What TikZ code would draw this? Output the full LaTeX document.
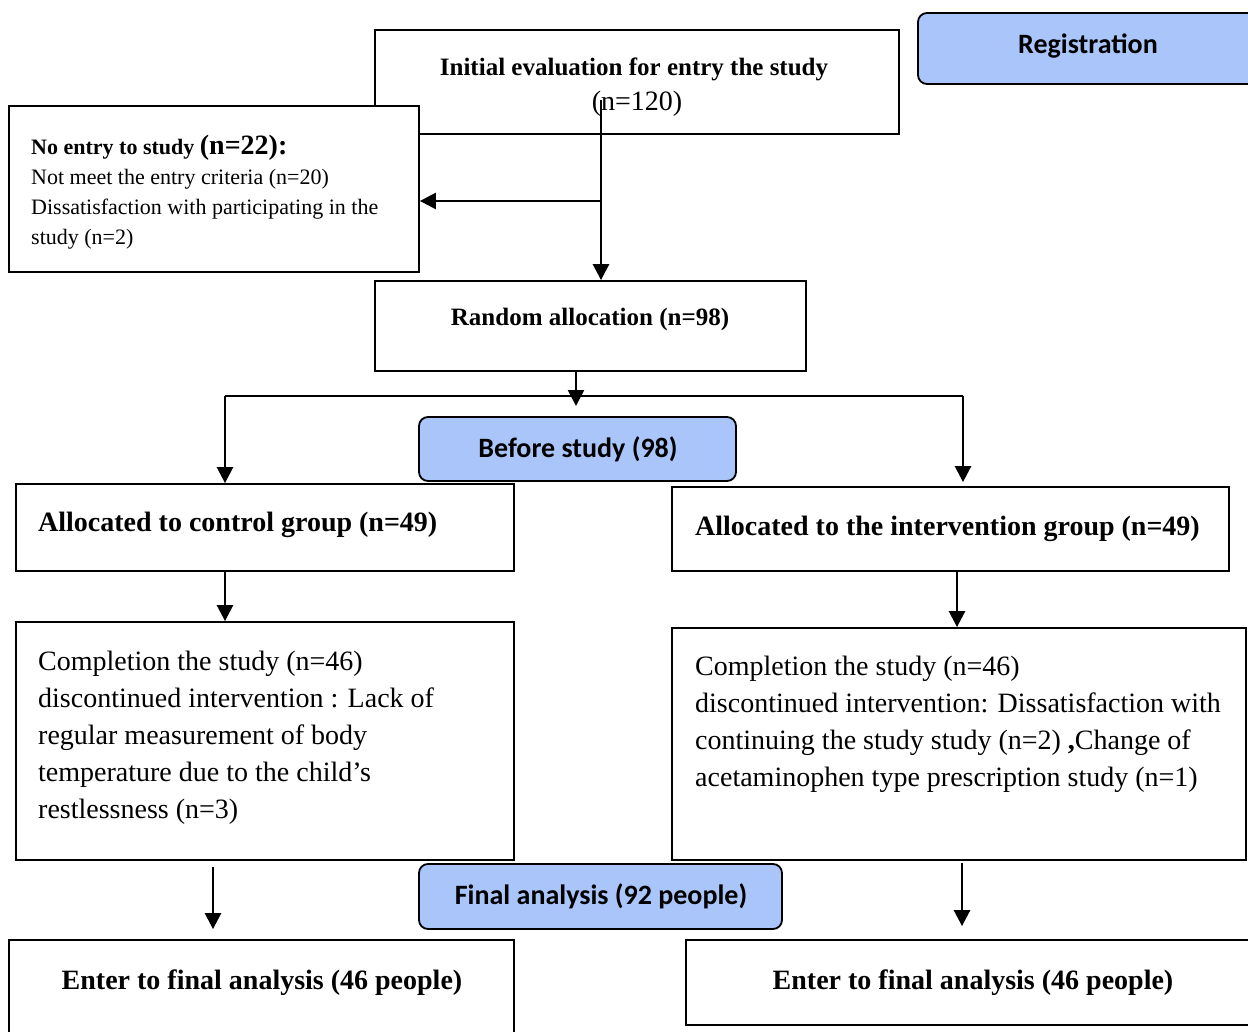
\documentclass[tikz,border=0pt]{standalone}
\usepackage{fontspec}
\setmainfont{Liberation Serif}
\newfontfamily\calfont{Carlito}
\usetikzlibrary{arrows.meta,fit}
\definecolor{regblue}{RGB}{169,197,250}
\newcommand\setfs[2]{\fontsize{#1}{#2}\selectfont}
\tikzset{
  box/.style={draw, line width=1.8pt, fill=white, inner sep=0pt},
  roundbox/.style={draw, line width=1.8pt, fill=regblue, rounded corners=9pt, inner sep=0pt},
  arr/.style={line width=2.6pt, -{Triangle[width=16pt,length=16pt]}},
  plainline/.style={line width=2.6pt},
  txt/.style={inner sep=0pt},
  calt/.style={inner sep=0pt, font=\calfont\bfseries\setfs{28}{34}},
  multi/.style={inner sep=0pt, align=flush left, anchor=base west},
}
\begin{document}
\begin{tikzpicture}[x=1pt,y=-1pt]
\useasboundingbox (0,0) rectangle (1248,1032);

% boxes
\node[box, fit={(375,30) (899,134)}] (init) {};
\node[roundbox, fit={(918,13) (1262,84)}] (reg) {};
\node[box, fit={(9,106) (419,272)}] (noentry) {};
\node[box, fit={(375,281) (806,371)}] (rand) {};
\node[roundbox, fit={(419,417) (736,481)}] (before) {};
\node[box, fit={(16,484) (514,571)}] (ctrl) {};
\node[box, fit={(672,487) (1229,571)}] (intv) {};
\node[box, fit={(16,622) (514,860)}] (ctrlc) {};
\node[box, fit={(672,628) (1246,860)}] (intvc) {};
\node[roundbox, fit={(419,864) (782,929)}] (final) {};
\node[box, fit={(9,940) (514,1045)}] (enterL) {};
\node[box, fit={(686,940) (1262,1025)}] (enterR) {};

% texts
\node[txt, anchor=base, font=\bfseries\setfs{25}{30}] (initT) at (634,76) {Initial evaluation for entry the study};
\node[txt, anchor=base, font=\setfs{28}{34}] (initN) at (637,111) {(n=120)};
\node[calt, anchor=base] (regT) at (1088,54) {Registration};
\node[multi, text width=385pt, font=\setfs{22}{30}] (noT) at (31,155)
  {\textbf{No entry to study {\setfs{28}{30}(n=22):}}\\
   Not meet the entry criteria (n=20)\\
   Dissatisfaction with participating in the\\
   study (n=2)};
\node[txt, anchor=base, font=\bfseries\setfs{25}{30}] (randT) at (590,326) {Random allocation (n=98)};
\node[calt, anchor=base] (beforeT) at (578,457) {Before study (98)};
\node[txt, anchor=base west, font=\bfseries\setfs{28}{34}] (ctrlT) at (38,531) {Allocated to control group (n=49)};
\node[txt, anchor=base west, font=\bfseries\setfs{28}{34}] (intvT) at (695,535) {Allocated to the intervention group (n=49)};
\node[multi, text width=470pt, font=\setfs{28}{37}] (ctrlcT) at (38,670)
  {Completion the study (n=46)\\
   discontinued intervention : Lack of\\
   regular measurement of body\\
   temperature due to the child’s\\
   restlessness (n=3)};
\node[multi, text width=545pt, font=\setfs{28}{37}] (intvcT) at (695,675)
  {Completion the study (n=46)\\
   discontinued intervention: Dissatisfaction with\\
   continuing the study study (n=2) \textbf{,}Change of\\
   acetaminophen type prescription study (n=1)};
\node[calt, anchor=base] (finalT) at (601,904) {Final analysis (92 people)};
\node[txt, anchor=base, font=\bfseries\setfs{28}{34}] (enterLT) at (262,989) {Enter to final analysis (46 people)};
\node[txt, anchor=base, font=\bfseries\setfs{28}{34}] (enterRT) at (973,989) {Enter to final analysis (46 people)};

% connectors
\coordinate (initS) at (601,100);
\coordinate (br1) at (601,201);
\draw[arr] (initS) -- (initS |- rand.north);
\draw[arr] (br1) -- (br1 -| noentry.east);

\coordinate (splitC) at (576,396);
\coordinate (splitL) at (225,396);
\coordinate (splitR) at (963,396);
\draw[arr] (rand.south -| splitC) -- (576,406);
\draw[plainline] (splitL) -- (splitR);
\draw[arr] (splitL) -- (splitL |- ctrl.north);
\draw[arr] (splitR) -- ([yshift=4pt]intv.north -| splitR);

\draw[arr] (ctrl.south -| splitL) -- (splitL |- ctrlc.north);
\coordinate (rc) at (957,600);
\draw[arr] (intv.south -| rc) -- (rc |- intvc.north);

\coordinate (lc) at (213,900);
\draw[arr] ([yshift=-6pt]ctrlc.south -| lc) -- ([yshift=10pt]enterL.north -| lc);
\coordinate (rc2) at (962,900);
\draw[arr] ([yshift=-2pt]intvc.south -| rc2) -- ([yshift=13pt]enterR.north -| rc2);
\end{tikzpicture}
\end{document}
